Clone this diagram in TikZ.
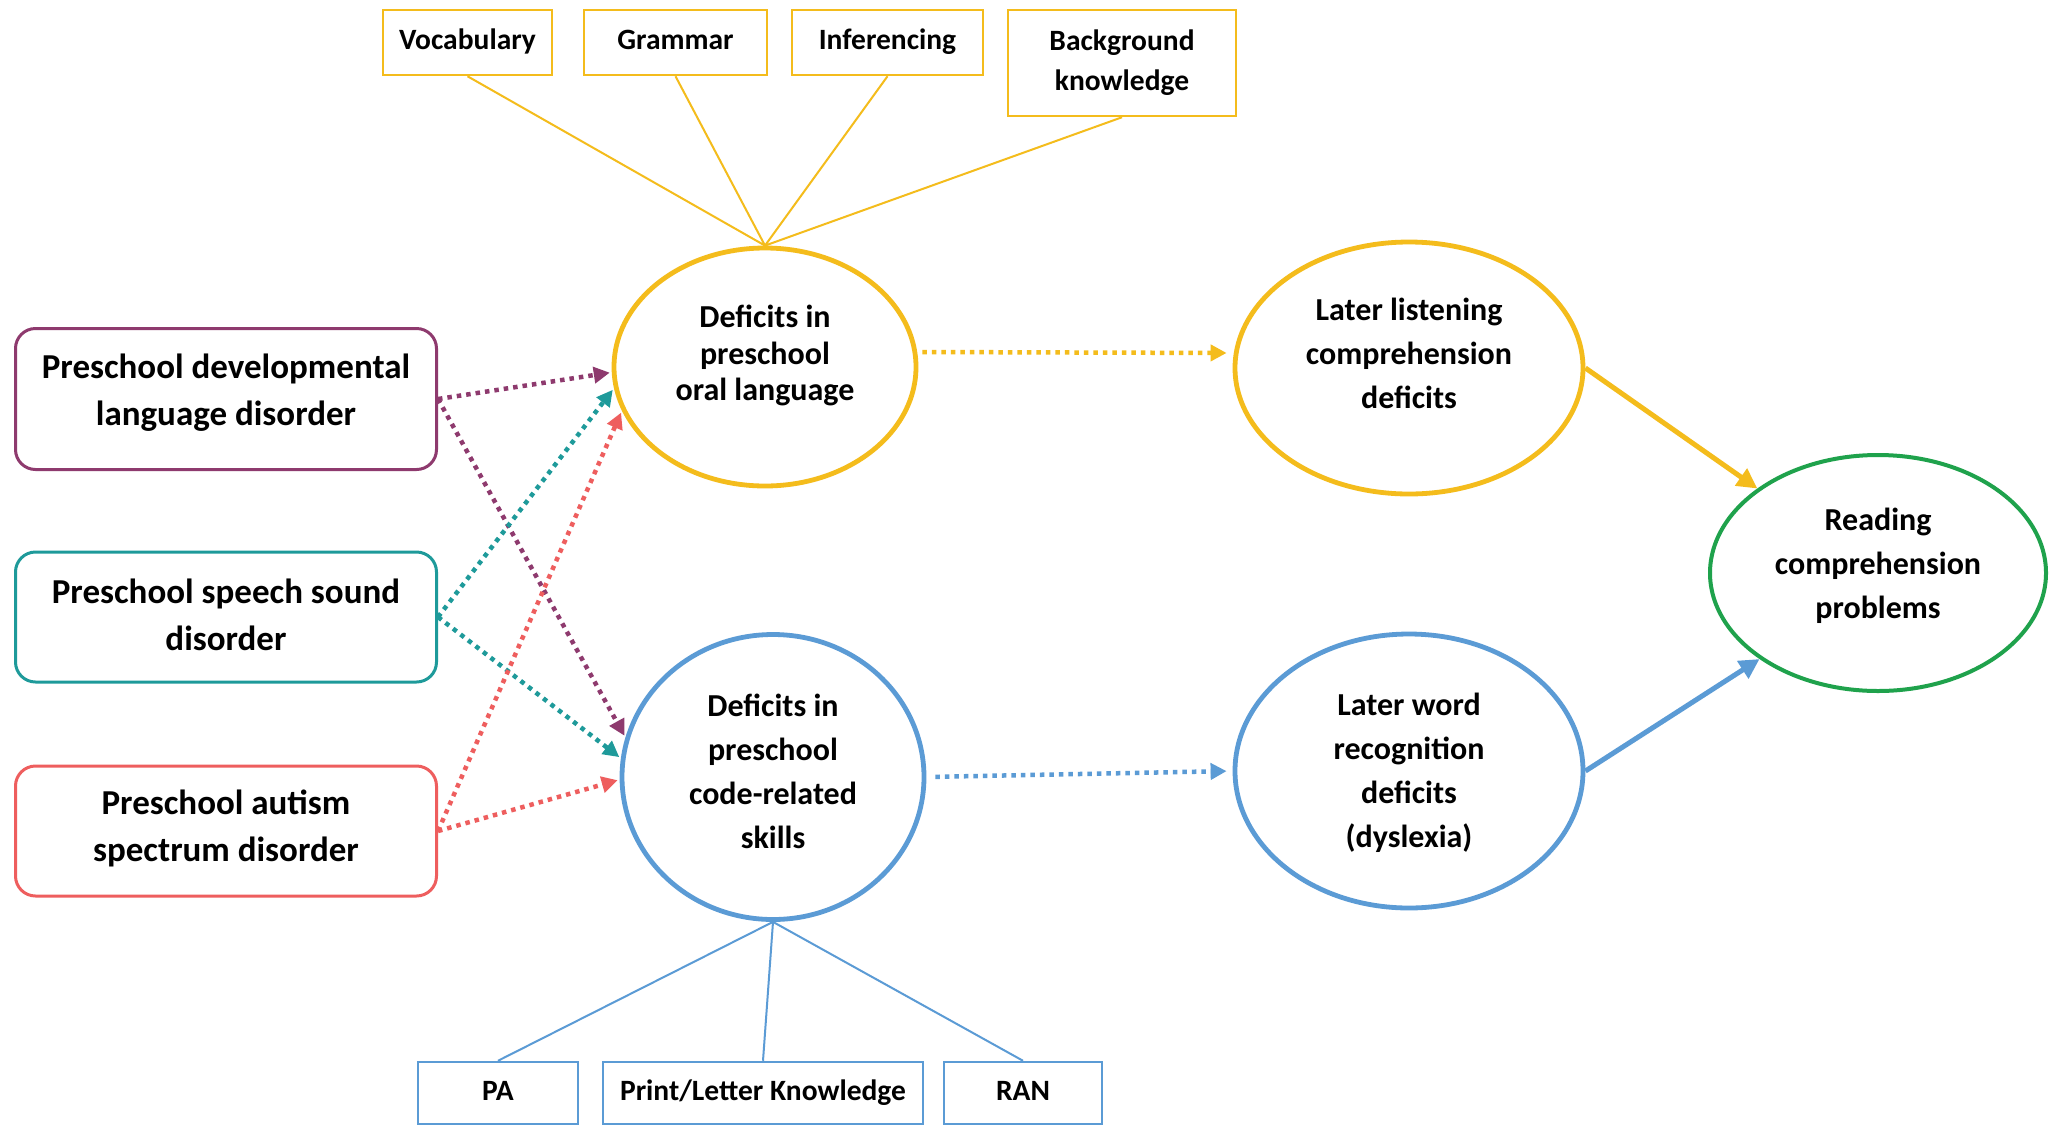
\documentclass[tikz,border=0pt]{standalone}
\usepackage{fontspec}
\setmainfont{Carlito}
\usetikzlibrary{shapes.geometric,arrows.meta}
\definecolor{cy}{HTML}{F4BC1C}
\definecolor{cb}{HTML}{5B9BD5}
\definecolor{cg}{HTML}{1FA24C}
\definecolor{cp}{HTML}{8E3A6E}
\definecolor{ct}{HTML}{1E9A9A}
\definecolor{cr}{HTML}{EE5E5E}
\tikzset{
  oval/.style={ellipse, draw, line width=4.8pt, inner sep=0pt},
  ovtext/.style={align=center, inner sep=0pt, font=\bfseries\fontsize{32}{44}\selectfont},
  lbox/.style={draw, rounded corners=20pt, line width=3pt, minimum width=421pt, inner sep=0pt},
  lbtext/.style={align=center, inner sep=0pt, font=\bfseries\fontsize{35}{47}\selectfont},
  sbox/.style={draw, line width=2.5pt, align=center, inner sep=0pt, text height=21pt, text depth=7pt, font=\bfseries\fontsize{29.5}{40}\selectfont},
  spoke/.style={line width=2pt},
  dotarrow/.style={line width=4.5pt, dash pattern=on 4.5pt off 5pt, -{Triangle[length=16pt,width=16pt]}, shorten >=2pt},
  solidarrow/.style={line width=5pt, -{Triangle[length=20pt,width=20pt]}}
}
\begin{document}
\begin{tikzpicture}[x=1pt,y=-1pt]
\useasboundingbox[fill=white] (0,0) rectangle (2050,1125);
% ovals
\node[oval, draw=cy, minimum width=302pt, minimum height=238pt] (oral) at (765,367) {};
\node[ovtext, font=\bfseries\fontsize{32}{36.6}\selectfont] (oralt) at (765,355.5) {Deficits in\\preschool\\oral language};
\node[oval, draw=cy, minimum width=348pt, minimum height=252pt] (listen) at (1409,368) {};
\node[ovtext] (listent) at (1409,353.5) {Later listening\\comprehension\\deficits};
\node[oval, draw=cg, line width=4pt, minimum width=336pt, minimum height=236pt] (read) at (1878,573) {};
\node[ovtext] (readt) at (1878,565.5) {Reading\\comprehension\\problems};
\node[oval, draw=cb, minimum width=302pt, minimum height=285pt] (code) at (773,777) {};
\node[ovtext] (codet) at (773,771) {Deficits in\\preschool\\code-related\\skills};
\node[oval, draw=cb, minimum width=348pt, minimum height=274pt] (word) at (1409,771) {};
\node[ovtext] (wordt) at (1409,773) {Later word\\recognition\\deficits\\(dyslexia)};
% left boxes
\node[lbox, draw=cp, minimum height=141pt] (dld) at (226,399) {};
\node[lbtext] (dldt) at (226,392.5) {Preschool developmental\\language disorder};
\node[lbox, draw=ct, minimum height=130pt] (ssd) at (226,617) {};
\node[lbtext] (ssdt) at (226,614.5) {Preschool speech sound\\disorder};
\node[lbox, draw=cr, minimum height=130pt] (asd) at (226,831) {};
\node[lbtext] (asdt) at (226,828.5) {Preschool autism\\spectrum disorder};
% top boxes
\node[sbox, draw=cy, minimum width=169pt, minimum height=65pt] (voc) at (467.5,42.5) {Vocabulary};
\node[sbox, draw=cy, minimum width=183pt, minimum height=65pt] (gram) at (675.5,42.5) {Grammar};
\node[sbox, draw=cy, minimum width=191pt, minimum height=65pt] (inf) at (887.5,42.5) {Inferencing};
\node[sbox, draw=cy, minimum width=228pt, minimum height=106pt, text height=, text depth=] (bg) at (1122,63) {Background\\knowledge};
% bottom boxes
\node[sbox, draw=cb, minimum width=160pt, minimum height=62pt] (pa) at (498,1093) {PA};
\node[sbox, draw=cb, minimum width=320pt, minimum height=62pt] (plk) at (763,1093) {Print/Letter Knowledge};
\node[sbox, draw=cb, minimum width=158pt, minimum height=62pt] (ran) at (1023,1093) {RAN};
% spokes
\draw[spoke, cy] (voc.south) -- (oral.north);
\draw[spoke, cy] (gram.south) -- (oral.north);
\draw[spoke, cy] (inf.south) -- (oral.north);
\draw[spoke, cy] (bg.south) -- (oral.north);
\draw[spoke, cb] (pa.north) -- (code.south);
\draw[spoke, cb] (plk.north) -- (code.south);
\draw[spoke, cb] (ran.north) -- (code.south);
% dotted arrows from left boxes
\draw[dotarrow, cp] (dld.east) -- (oral.182);
\draw[dotarrow, cp] (dld.east) -- (code.165);
\draw[dotarrow, ct] (ssd.east) -- (oral.188);
\draw[dotarrow, ct] (ssd.east) -- (code.173);
\draw[dotarrow, cr] (asd.east) -- (oral.197);
\draw[dotarrow, cr] (asd.east) -- (code.181);
% middle arrows
\draw[dotarrow, cy, shorten <=4pt, shorten >=6pt] ([yshift=15pt]oral.east) -- ([yshift=15pt]listen.west);
\draw[dotarrow, cb, shorten <=9pt, shorten >=6pt] (code.east) -- (word.west);
\draw[solidarrow, cy] (listen.east) -- (read.145);
\draw[solidarrow, cb] (word.east) -- (read.216);
\end{tikzpicture}
\end{document}
